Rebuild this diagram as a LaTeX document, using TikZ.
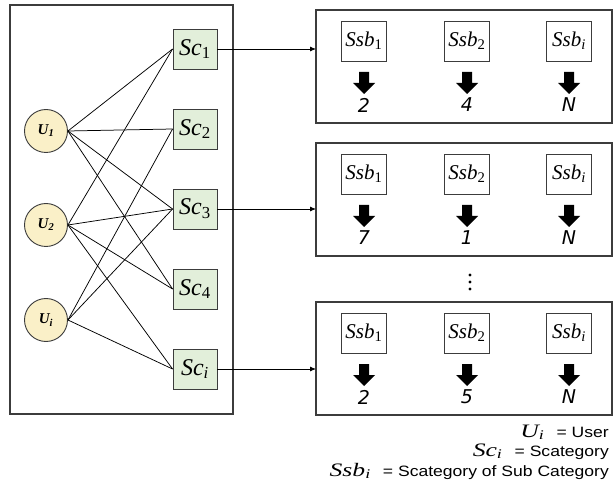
\documentclass[tikz,border=0pt]{standalone}
\usepackage{graphicx}
\usepackage{fontspec}
\setmainfont{Liberation Sans}
\newfontfamily\numfont{DejaVu Sans}
\newfontfamily\mfont{Liberation Serif}
\newcommand{\mv}[2]{{\mfont\itshape #1\textsubscript{#2}}}
\newcommand{\legm}[2]{\scalebox{1.35}[1]{\fontsize{19}{21}\selectfont\mv{#1}{#2}}}
\newcommand{\legt}[1]{\scalebox{1.17}[1]{#1}}
\usetikzlibrary{arrows.meta}
\definecolor{ufill}{RGB}{250,240,200}
\definecolor{scfill}{RGB}{226,239,218}
\definecolor{bord}{RGB}{60,60,60}
\begin{document}
\begin{tikzpicture}[x=1pt,y=-1pt,
  frame/.style={draw=bord,line width=1.1pt},
  unode/.style={circle,draw=bord,line width=0.9pt,fill=ufill,minimum size=43pt,inner sep=0pt,font=\mfont\bfseries\itshape\fontsize{15}{16}\selectfont},
  scnode/.style={rectangle,draw=bord,line width=0.9pt,fill=scfill,minimum width=44pt,minimum height=40pt,inner sep=0pt,font=\fontsize{24}{26}\selectfont},
  ssbnode/.style={rectangle,draw=bord,line width=0.9pt,minimum width=45pt,minimum height=40pt,inner sep=0pt,font=\fontsize{21}{23}\selectfont},
  numnode/.style={inner sep=0pt,font=\numfont\itshape\fontsize{19}{21}\selectfont},
  edge/.style={draw=black,line width=0.75pt},
  link/.style={draw=black,line width=0.8pt,-{Latex[length=6pt,width=5pt]}},
  legend/.style={inner sep=0pt,anchor=base east,font=\fontsize{15}{17}\selectfont}
]
\useasboundingbox (0,0) rectangle (613,486);
% left frame
\node[frame,minimum width=223pt,minimum height=409pt,inner sep=0pt] (left) at (121.5,209.5) {};
% users
\node[unode] (u1) at (46,131) {U\textsubscript{1}};
\node[unode] (u2) at (46,225) {U\textsubscript{2}};
\node[unode] (ui) at (46,320) {U\textsubscript{i}};
% categories
\node[scnode] (sc1) at (195,49) {\mv{Sc}{\upshape 1}};
\node[scnode] (sc2) at (195,129) {\mv{Sc}{\upshape 2}};
\node[scnode] (sc3) at (195,209) {\mv{Sc}{\upshape 3}};
\node[scnode] (sc4) at (195,289) {\mv{Sc}{\upshape 4}};
\node[scnode] (sci) at (195,369) {\mv{Sc}{i}};
% edges
\foreach \a/\b in {u1/sc1,u1/sc2,u1/sc3,u1/sc4,u2/sc1,u2/sc3,u2/sc4,u2/sci,ui/sc2,ui/sc3,ui/sci}
  \draw[edge] (\a.east) -- (\b.west);
% right boxes
\foreach \n/\t/\va/\vb/\vc in {b1/10/2/4/N, b2/143/7/1/N, b3/302/2/5/N}{
  \node[frame,minimum width=296pt,minimum height=113pt,inner sep=0pt] (\n) at (464,\t+56.5) {};
  \node[ssbnode] (\n s1) at (364,\t+31) {\mv{Ssb}{\upshape 1}};
  \node[ssbnode] (\n s2) at (467,\t+31) {\mv{Ssb}{\upshape 2}};
  \node[ssbnode] (\n si) at (569,\t+31) {\mv{Ssb}{i}};
  \foreach \x in {364,467,569}
    \fill[black] (\x-5,\t+62) -- (\x+5,\t+62) -- (\x+5,\t+73) -- (\x+11,\t+73) -- (\x,\t+84) -- (\x-11,\t+73) -- (\x-5,\t+73) -- cycle;
  \node[numnode] (\n n1) at (364,\t+95) {\va};
  \node[numnode] (\n n2) at (467,\t+95) {\vb};
  \node[numnode] (\n ni) at (569,\t+95) {\vc};
}
% links
\coordinate (t1) at (316,49);
\coordinate (t2) at (316,209);
\coordinate (t3) at (316,369);
\draw[link] (sc1.east) -- (t1);
\draw[link] (sc3.east) -- (t2);
\draw[link] (sci.east) -- (t3);
% dots
\foreach \y in {275,282,289} \fill[black] (470,\y) circle (1.6pt);
% legend
\node[legend] (l1) at (609,437) {\legm{U}{i}\hspace{12pt}\legt{= User}};
\node[legend] (l2) at (609,456) {\legm{Sc}{i}\hspace{12pt}\legt{= Scategory}};
\node[legend] (l3) at (609,476) {\legm{Ssb}{i}\hspace{12pt}\legt{= Scategory of Sub Category}};
\end{tikzpicture}
\end{document}
